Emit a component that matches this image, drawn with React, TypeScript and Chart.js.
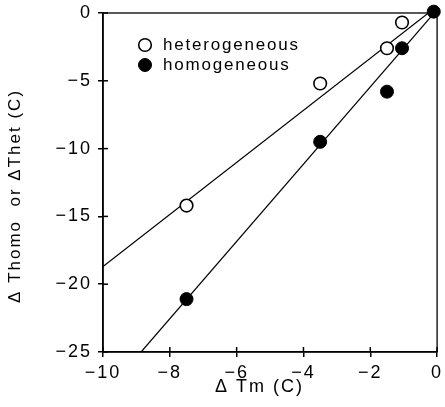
import React, { useEffect, useRef } from 'react';
import { Chart, registerables } from 'chart.js';

Chart.register(...registerables);

// ---- data ----
const hetX = [-7.5, -3.5, -1.5, -1.05];
const hetY = [-14.2, -5.2, -2.6, -0.7];
const homX = [-7.5, -3.5, -1.5, -1.05, -0.1];
const homY = [-21.1, -9.5, -5.8, -2.6, 0.1];
const hetFitX = [-10, 0];
const hetFitY = [-18.7, 0.5];
const homFitX = [-8.86, 0];
const homFitY = [-25, 0.25];
const seriesNames = ['heterogeneous', 'homogeneous'];
const xTitle = 'Δ Tm (C)   ';
const yTitle = 'Δ Thomo  or ΔThet (C)    ';
const xMin = -10, xMax = 0, xStep = 2;
const yMin = -25, yMax = 0, yStep = 5;

const FONT = "'Liberation Sans', Arial, Helvetica, sans-serif";

const pts = (xs: number[], ys: number[]) => xs.map((x, i) => ({ x, y: ys[i] }));
const fmt = (v: number) => (v < 0 ? '\u2212' + Math.abs(v) : String(v));

const spacingPlugin = {
  id: 'spacing',
  beforeDraw(chart: any) {
    chart.ctx.letterSpacing = '2px';
  },
};

const framePlugin = {
  id: 'frame',
  beforeDatasetsDraw(chart: any) {
    const { ctx, chartArea } = chart;
    ctx.save();
    ctx.strokeStyle = '#000';
    ctx.lineWidth = 1.3;
    ctx.strokeRect(chartArea.left, chartArea.top, chartArea.right - chartArea.left, chartArea.bottom - chartArea.top);
    // inner halves of the tick marks
    ctx.lineWidth = 1.5;
    const xs = chart.scales.x, ys = chart.scales.y;
    xs.ticks.forEach((t: any) => {
      const px = xs.getPixelForValue(t.value);
      ctx.beginPath();
      ctx.moveTo(px, chartArea.bottom);
      ctx.lineTo(px, chartArea.bottom - 5);
      ctx.stroke();
    });
    ys.ticks.forEach((t: any) => {
      const py = ys.getPixelForValue(t.value);
      ctx.beginPath();
      ctx.moveTo(chartArea.left, py);
      ctx.lineTo(chartArea.left + 5, py);
      ctx.stroke();
    });
    ctx.restore();
  },
};

const legendPlugin = {
  id: 'innerLegend',
  afterDraw(chart: any) {
    const { ctx, chartArea } = chart;
    ctx.save();
    ctx.letterSpacing = '1.8px';
    ctx.font = `17px ${FONT}`;
    ctx.textBaseline = 'middle';
    ctx.textAlign = 'left';
    ctx.fillStyle = '#000';
    [0, 1].forEach((i) => {
      const ds = chart.data.datasets[i];
      const cx = chartArea.left + 42;
      const cy = chartArea.top + 32 + i * 20;
      ctx.beginPath();
      ctx.arc(cx, cy, ds.pointRadius, 0, Math.PI * 2);
      ctx.fillStyle = ds.backgroundColor;
      ctx.fill();
      ctx.lineWidth = ds.borderWidth;
      ctx.strokeStyle = ds.borderColor;
      ctx.stroke();
      ctx.fillStyle = '#000';
      ctx.fillText(ds.label, chartArea.left + 60, cy);
    });
    ctx.restore();
  },
};

export default function App() {
  const ref = useRef<HTMLCanvasElement | null>(null);

  useEffect(() => {
    if (!ref.current) return;
    const chart = new Chart(ref.current, {
      type: 'scatter',
      data: {
        datasets: [
          {
            label: seriesNames[0],
            data: pts(hetX, hetY),
            pointRadius: 6.3,
            pointHoverRadius: 6.3,
            backgroundColor: '#fff',
            borderColor: '#000',
            borderWidth: 1.6,
            clip: false,
            order: 1,
          } as any,
          {
            label: seriesNames[1],
            data: pts(homX, homY),
            pointRadius: 6.5,
            pointHoverRadius: 6.5,
            backgroundColor: '#000',
            borderColor: '#000',
            borderWidth: 1,
            clip: false,
            order: 0,
          } as any,
          {
            type: 'line',
            label: 'het fit',
            data: pts(hetFitX, hetFitY),
            borderColor: '#000',
            borderWidth: 1.2,
            pointRadius: 0,
            showLine: true,
            fill: false,
            order: 2,
          } as any,
          {
            type: 'line',
            label: 'hom fit',
            data: pts(homFitX, homFitY),
            borderColor: '#000',
            borderWidth: 1.2,
            pointRadius: 0,
            showLine: true,
            fill: false,
            order: 3,
          } as any,
        ],
      },
      options: {
        animation: false,
        responsive: false,
        devicePixelRatio: 1,
        layout: { padding: { left: 0, right: 3, top: 13, bottom: 0 } },
        plugins: {
          legend: { display: false },
          tooltip: { enabled: false },
        },
        scales: {
          x: {
            type: 'linear',
            min: xMin,
            max: xMax,
            afterFit(scale: any) {
              scale.height = 55;
              scale.paddingLeft = 0;
              scale.paddingRight = 0;
            },
            ticks: {
              stepSize: xStep,
              color: '#000',
              font: { family: FONT, size: 18 },
              padding: 5,
              maxRotation: 0,
              callback: (v: any) => fmt(Number(v)),
            },
            grid: { drawOnChartArea: false, drawTicks: true, tickLength: 5, color: '#000', lineWidth: 1.5 },
            border: { display: true, color: '#000', width: 1.6 },
            title: {
              display: true,
              text: xTitle,
              color: '#000',
              font: { family: FONT, size: 18 },
              padding: { top: 0, bottom: 9 },
            },
          },
          y: {
            type: 'linear',
            min: yMin,
            max: yMax,
            afterFit(scale: any) {
              scale.width = 103;
              scale.paddingTop = 0;
              scale.paddingBottom = 0;
            },
            ticks: {
              stepSize: yStep,
              color: '#000',
              font: { family: FONT, size: 18 },
              padding: 6,
              callback: (v: any) => fmt(Number(v)),
            },
            grid: { drawOnChartArea: false, drawTicks: true, tickLength: 5, color: '#000', lineWidth: 1.5 },
            border: { display: true, color: '#000', width: 1.6 },
            title: {
              display: true,
              text: yTitle,
              color: '#000',
              font: { family: FONT, size: 17 },
              padding: { top: 5, bottom: 0 },
            },
          },
        },
      },
      plugins: [spacingPlugin, framePlugin, legendPlugin],
    });
    return () => chart.destroy();
  }, []);

  return (
    <div style={{ position: 'fixed', left: 0, top: 0, width: 445, height: 407, background: '#fff' }}>
      <canvas ref={ref} width={445} height={407} style={{ width: 445, height: 407, display: 'block' }} />
    </div>
  );
}
